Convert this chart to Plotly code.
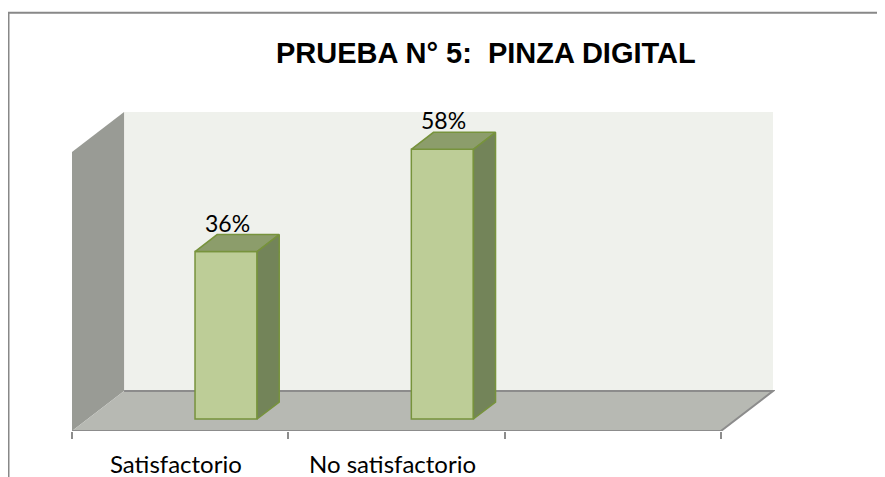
import plotly.graph_objects as go

# ---- data ----
categories = ["Satisfactorio", "No satisfactorio", ""]
values = [0.36, 0.58]
value_labels = ["36%", "58%"]
title_text = "PRUEBA N° 5:&nbsp;&nbsp;PINZA DIGITAL"
axis_max = 0.6

# ---- page / 3D geometry ----
OFF = 8                                  # default body margin of the page
W, H = 885 - OFF, 477 - OFF
ML, MR, MT, MB = 72 - OFF, 110, 112 - OFF, 46
DEPTH_X, DEPTH_Y = 0.2407, 0.086        # full floor depth vector (axis units)
BAR_D0, BAR_D1 = 0.30, 0.725            # bar front / back depth fractions
BAR_SHIFT, BAR_W = 0.14, 0.287          # bar centre offset within category, width
n_cat = len(categories)
x0, x1 = -0.5, n_cat - 0.5
xr = [x0, x1 + 0.25]
yr = [0, axis_max + DEPTH_Y]

WALL_BACK = "#EFF1EC"
WALL_LEFT = "#999B95"
FLOOR = "#B7B9B3"
EDGE = "#8C8C8C"
BAR_FRONT = "#BDCD97"
BAR_TOP = "#8C9D6B"
BAR_SIDE = "#738459"
BAR_EDGE = "#77933C"

fig = go.Figure()

shapes = []
# back wall
shapes.append(dict(type="rect", xref="x", yref="y", layer="below",
                   x0=x0 + DEPTH_X, x1=x1 + DEPTH_X, y0=DEPTH_Y, y1=axis_max + DEPTH_Y,
                   fillcolor=WALL_BACK, line=dict(width=0)))
# left wall
shapes.append(dict(type="path", xref="x", yref="y", layer="below",
                   path=f"M{x0},0 L{x0},{axis_max} L{x0+DEPTH_X},{axis_max+DEPTH_Y} L{x0+DEPTH_X},{DEPTH_Y} Z",
                   fillcolor=WALL_LEFT, line=dict(width=0)))
# floor
shapes.append(dict(type="path", xref="x", yref="y", layer="below",
                   path=f"M{x0},0 L{x1},0 L{x1+DEPTH_X},{DEPTH_Y} L{x0+DEPTH_X},{DEPTH_Y} Z",
                   fillcolor=FLOOR, line=dict(width=0)))
shapes.append(dict(type="path", xref="x", yref="y", layer="below",
                   path=f"M{x0},0 L{x1},0 L{x1+DEPTH_X},{DEPTH_Y} L{x0+DEPTH_X},{DEPTH_Y}",
                   line=dict(color=EDGE, width=2)))

# outer border (top and left)
pw = W - ML - MR
ph = H - MT - MB
bx = (0.5 - ML) / pw
by = (H - MB - (12.7 - OFF)) / ph
shapes.append(dict(type="path", xref="paper", yref="paper", layer="above",
                   path=f"M{bx},-0.5 L{bx},{by} L1.5,{by}",
                   line=dict(color="#888888", width=2)))

# bars: front faces via bar trace
bx_front = [i + BAR_SHIFT + BAR_D0 * DEPTH_X for i in range(len(values))]
b_base = BAR_D0 * DEPTH_Y
ddx = (BAR_D1 - BAR_D0) * DEPTH_X
ddy = (BAR_D1 - BAR_D0) * DEPTH_Y

fig.add_trace(go.Bar(x=bx_front, y=values, base=[b_base] * len(values), width=BAR_W,
                     marker=dict(color=BAR_FRONT, line=dict(color=BAR_EDGE, width=1.5)),
                     hoverinfo="skip", showlegend=False))

for xc, v in zip(bx_front, values):
    l, r = xc - BAR_W / 2, xc + BAR_W / 2
    top = v + b_base
    # top face
    fig.add_trace(go.Scatter(x=[l, r, r + ddx, l + ddx, l], y=[top, top, top + ddy, top + ddy, top],
                             mode="lines", fill="toself", fillcolor=BAR_TOP,
                             line=dict(color=BAR_EDGE, width=1.5), hoverinfo="skip", showlegend=False))
    # side face
    fig.add_trace(go.Scatter(x=[r, r, r + ddx, r + ddx, r], y=[b_base, top, top + ddy, b_base + ddy, b_base],
                             mode="lines", fill="toself", fillcolor=BAR_SIDE,
                             line=dict(color=BAR_EDGE, width=1.5), hoverinfo="skip", showlegend=False))

annotations = []
for xc, v, t in zip(bx_front, values, value_labels):
    annotations.append(dict(x=xc + 0.005, y=v + b_base + ddy, xref="x", yref="y", text=t,
                            showarrow=False, yanchor="bottom", yshift=-4,
                            font=dict(family="Lato", size=23, color="#000000")))
for i, c in enumerate(categories):
    if c:
        annotations.append(dict(x=i - 0.02, y=0, xref="x", yref="paper", text=c, showarrow=False,
                                yanchor="middle", yshift=-32,
                                font=dict(family="Lato", size=24, color="#000000")))
annotations.append(dict(x=(485.5 - 72) / pw, y=(H - MB - (53 - OFF)) / ph, xref="paper", yref="paper",
                        text=f"<b>{title_text}</b>", showarrow=False, xanchor="center", yanchor="middle",
                        font=dict(family="Liberation Sans", size=29, color="#000000")))

fig.update_layout(
    width=W, height=H,
    margin=dict(l=ML, r=MR, t=MT, b=MB),
    paper_bgcolor="#FFFFFF", plot_bgcolor="#FFFFFF",
    shapes=shapes, annotations=annotations,
    xaxis=dict(range=xr, showgrid=False, zeroline=False, showline=False,
               tickmode="array", tickvals=[x0 + k for k in range(n_cat + 1)],
               ticktext=[""] * (n_cat + 1), ticks="outside", ticklen=7, tickwidth=2, tickcolor=EDGE,
               fixedrange=True),
    yaxis=dict(range=yr, showgrid=False, zeroline=False, showline=False, showticklabels=False,
               ticks="", fixedrange=True),
    showlegend=False,
)

fig.write_html("out.html")
